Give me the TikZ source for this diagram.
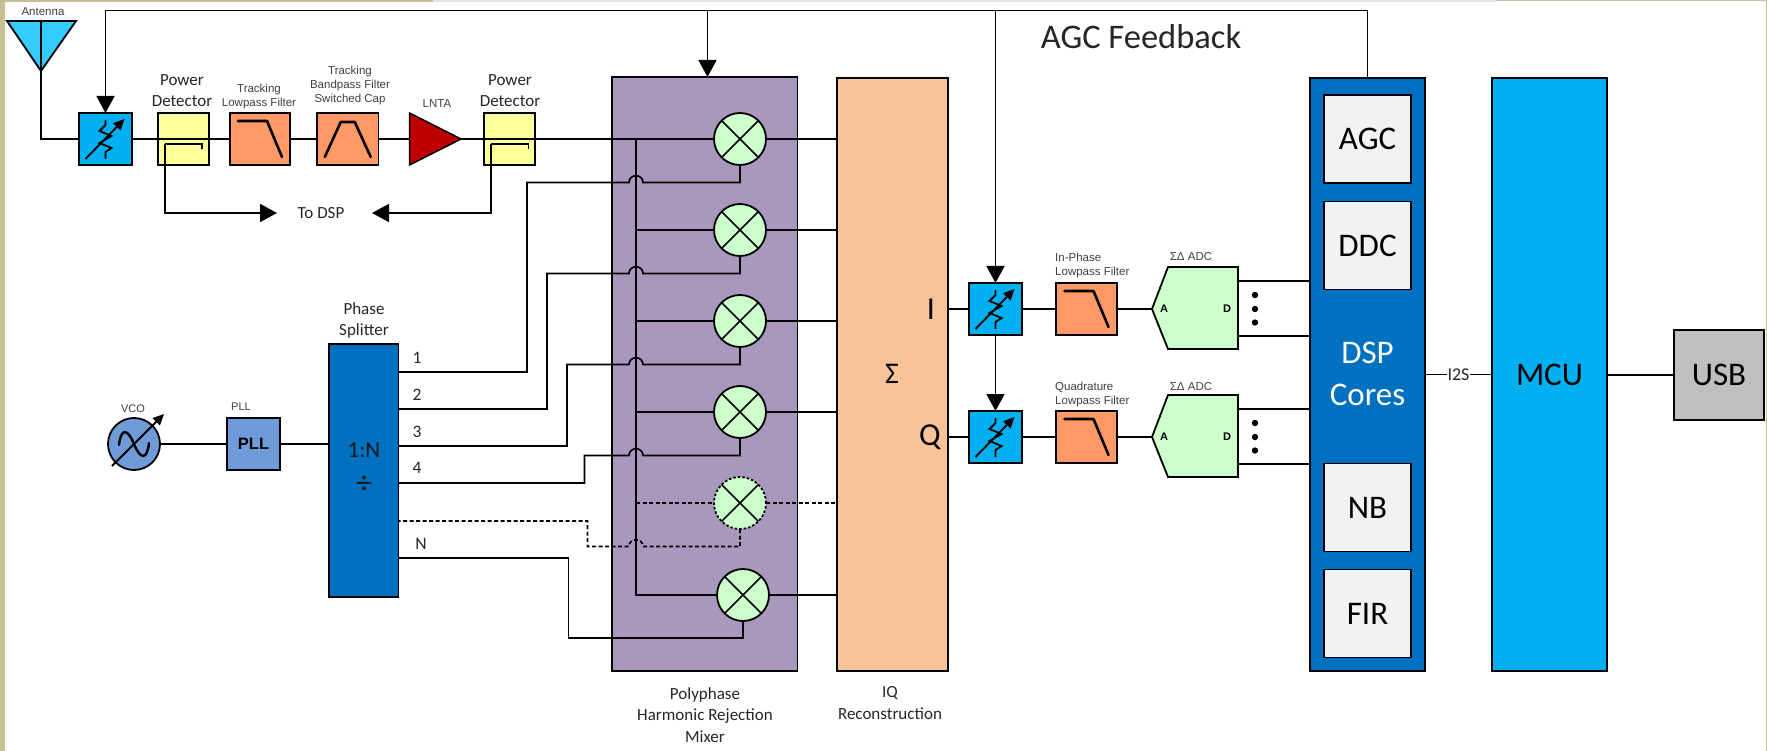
\documentclass[tikz,border=0pt]{standalone}
\usepackage{fontspec}
\setmainfont{Carlito}
\newfontfamily\arialf{Liberation Sans}
\usetikzlibrary{arrows.meta,calc}
\newcommand\fsz[1]{\fontsize{#1}{#1}\selectfont}
\definecolor{beige}{HTML}{C6BE95}
\definecolor{lgray}{HTML}{E5E2DF}
\definecolor{anticol}{HTML}{33CCFF}
\definecolor{attcol}{HTML}{00B0F0}
\definecolor{pdcol}{HTML}{FFFF99}
\definecolor{filtcol}{HTML}{FF9966}
\definecolor{lntacol}{HTML}{C00000}
\definecolor{mixcol}{HTML}{A998BE}
\definecolor{sigcol}{HTML}{F8C399}
\definecolor{grncol}{HTML}{CCFFCC}
\definecolor{pllcol}{HTML}{6F9BD8}
\definecolor{dspcol}{HTML}{0070C0}
\definecolor{subcol}{HTML}{F2F2F2}
\definecolor{usbcol}{HTML}{BFBFBF}
\definecolor{smalltxt}{HTML}{404040}
\tikzset{
  wire/.style={line width=1.7pt,line join=miter},
  dashwire/.style={wire,dash pattern=on 4pt off 2.5pt},
  bigtip/.style={wire,-{Triangle[length=17pt,width=18pt]}},
  box/.style={draw=black,line width=1.8pt,inner sep=0pt,outer sep=0pt,rectangle,align=center},
  small/.style={font=\arialf\fontsize{11.5}{14}\selectfont,text=smalltxt,align=center,inner sep=0pt},
  med/.style={font=\fontsize{17}{21}\selectfont,text=black!85,align=center,inner sep=0pt},
  big/.style={font=\fontsize{33}{42}\selectfont,text=black,align=center},
  mixer/.style={circle,draw=black,line width=1.8pt,fill=grncol,minimum size=52pt,inner sep=0pt,outer sep=0pt},
  symline/.style={line width=2.6pt,line cap=round,line join=round},
  pics/attsym/.style={code={
    \draw[line width=1.8pt,line join=miter] (0,-19)--(0,-14)--(-6,-8)--(6,-3)--(-6,4)--(6,9)--(0,13)--(0,20);
    \draw[line width=1.8pt,-{Triangle[length=11pt,width=10pt]}] (-20,20)--(19,-20);
  }},
  pics/lpsym/.style={code={\draw[symline] (-22,-18)--(7,-18)--(22,18);}},
  pics/adcsym/.style={code={
    \draw[line width=1.8pt,fill=grncol,line join=miter] (0,0)--(16,-42)--(86,-42)--(86,40)--(16,40)--cycle;
    \coordinate (-tip) at (0,0);
    \coordinate (-outa) at (86,-28);
    \coordinate (-outb) at (86,27);
    \fill (103,-14) circle (3.2) (103,0) circle (3.2) (103,13.5) circle (3.2);
  }},
}
\begin{document}
\begin{tikzpicture}[x=1pt,y=-1pt]
\useasboundingbox (0,0) rectangle (1767,751);
\fill[white] (0,0) rectangle (1767,751);
\fill[beige] (0,0) rectangle (5,751);
\fill[beige] (0,0) rectangle (433,2);
\fill[lgray] (433,0) rectangle (1497,2);
\fill[beige] (1497,0) rectangle (1767,1.5);
\fill[beige] (1765.8,0) rectangle (1767,751);

% blocks
\node[box,fill=attcol,minimum width=53pt,minimum height=52pt] (att1) at (105.5,139) {};
\node[box,fill=pdcol,minimum width=51pt,minimum height=52pt] (pd1) at (183.5,139) {};
\node[box,fill=filtcol,minimum width=60pt,minimum height=52pt] (lp) at (260,139) {};
\node[box,fill=filtcol,minimum width=61.5pt,minimum height=52pt] (bp) at (347.75,139) {};
\node[box,fill=pdcol,minimum width=51pt,minimum height=52pt] (pd2) at (509.5,139) {};
\node[box,fill=mixcol,minimum width=185.5pt,minimum height=594pt] (mixbox) at (704.75,374) {};
\node[box,fill=sigcol,minimum width=111pt,minimum height=593pt] (sigma) at (892.5,374.5) {};
\node[box,fill=attcol,minimum width=53pt,minimum height=52pt] (att2) at (995.5,309) {};
\node[box,fill=attcol,minimum width=53pt,minimum height=52pt] (att3) at (995.5,437) {};
\node[box,fill=filtcol,minimum width=61pt,minimum height=52pt] (filt1) at (1086.5,309) {};
\node[box,fill=filtcol,minimum width=61pt,minimum height=52pt] (filt2) at (1086.5,437) {};
\node[box,fill=dspcol,minimum width=115pt,minimum height=593pt] (dsp) at (1367.5,374.5) {};
\node[box,fill=subcol,minimum width=87pt,minimum height=88pt,font=\fsz{33}] (agc) at (1367.5,139) {AGC};
\node[box,fill=subcol,minimum width=87pt,minimum height=88pt,font=\fsz{33}] (ddc) at (1367.5,245.5) {DDC};
\node[box,fill=subcol,minimum width=87pt,minimum height=88pt,font=\fsz{33}] (nb) at (1367.5,507.5) {NB};
\node[box,fill=subcol,minimum width=87pt,minimum height=88pt,font=\fsz{33}] (fir) at (1367.5,613.5) {FIR};
\node[big,text=white,inner sep=0pt] (dsptxt) at (1367.5,374) {DSP\\Cores};
\node[box,fill=attcol,minimum width=115pt,minimum height=593pt,font=\fsz{33}] (mcu) at (1549.5,374.5) {MCU};
\node[box,fill=usbcol,minimum width=90pt,minimum height=90pt,font=\fsz{33}] (usb) at (1719,375) {USB};
\node[box,fill=pllcol,minimum width=53pt,minimum height=52pt,font=\arialf\bfseries\fsz{16.5}] (pll) at (253.5,444) {PLL};
\node[circle,draw=black,line width=1.8pt,fill=pllcol,minimum size=52pt,inner sep=0pt,outer sep=0pt] (vco) at (134,444) {};
\node[box,fill=dspcol,minimum width=69.5pt,minimum height=253pt] (split) at (363.75,470.5) {};

% antenna and LNTA
\coordinate (anttop) at (41,21);
\coordinate (anttip) at (41,71);
\draw[line width=1.8pt,fill=anticol,line join=miter] (7,21)--(76,21)--(anttip)--cycle;
\coordinate (lntain) at (409.5,139);
\coordinate (lntaout) at (461,139);
\draw[line width=1.5pt,fill=lntacol,line join=miter] (409.5,113)--(lntaout)--(409.5,165)--cycle;

% mixers
\foreach \n/\yy in {1/139,2/230,3/321,4/412} \node[mixer] (mix\n) at (740,\yy) {};
\node[mixer,dash pattern=on 2.5pt off 2pt] (mix5) at (740,503) {};
\node[mixer] (mix6) at (743,595) {};

% RF chain connectors
\draw[wire] (anttop)--(anttip) |- (att1.west);
\draw[wire] (att1.east)--(lp.west);
\draw[wire] (lp.east)--(bp.west);
\draw[wire] (bp.east)--(lntain);
\draw[wire] (lntaout)--(mix1.west);

% AGC feedback
\coordinate (fb) at (105.5,10.5);
\coordinate (fbmix) at (707.5,10.5);
\coordinate (mixin) at (707.5,77);
\draw[bigtip] (dsp.north) |- (fb) -- (att1.north);
\draw[bigtip] (fbmix)--(mixin);
\draw[bigtip] (fb -| att2.north)--(att2.north);
\draw[bigtip] (att2.south)--(att3.north);

% power detector tap lines
\coordinate (pd1a) at (165,144);
\coordinate (pd1b) at (202,144);
\coordinate (pd1c) at (202,149);
\coordinate (pd2a) at (491,144);
\coordinate (pd2b) at (528.5,144);
\coordinate (pd2c) at (528.5,149);
\coordinate (dspl) at (277,213);
\coordinate (dspr) at (372,213);
\draw[wire] (pd1c)--(pd1b)--(pd1a);
\draw[bigtip] (pd1a) |- (dspl);
\draw[wire] (pd2c)--(pd2b)--(pd2a);
\draw[bigtip] (pd2a) |- (dspr);

% bus and mixer ports
\coordinate (bus) at (636,139);
\coordinate (jl) at (629,139);
\coordinate (jr) at (643,139);
\draw[line width=1.8pt] (bus) -- (bus |- mix6.west) -- (mix6.west);
\draw[wire] (bus |- mix2.west)--(mix2.west);
\draw[wire] (bus |- mix3.west)--(mix3.west);
\draw[wire] (bus |- mix4.west)--(mix4.west);
\draw[dashwire] (bus |- mix5.west)--(mix5.west);
\foreach \n in {1,2,3,4,6} \draw[wire] (mix\n.east)--(sigma.west |- mix\n.east);
\draw[dashwire] (mix5.east)--(sigma.west |- mix5.east);

% LO lines
\foreach \n/\sy/\cx in {1/372/527,2/409/547,3/446/567,4/483/584.5}{
  \coordinate (s\n) at (398.5,\sy);
  \coordinate (j\n) at ($(mix\n.south)+(0,17.5)$);
  \coordinate (c\n) at (\cx,\sy);
  \draw[wire] (mix\n.south)--(j\n)--(j\n -| jr) .. controls ($(j\n -| jr)+(0,-9)$) and ($(j\n -| jl)+(0,-9)$) .. (j\n -| jl)--(j\n -| c\n)--(c\n)--(s\n);
}
\coordinate (s5) at (398.5,521);
\coordinate (c5) at (587.5,521);
\coordinate (j5) at ($(mix5.south)+(0,17.5)$);
\draw[dashwire] (mix5.south)--(j5)--(j5 -| jr) .. controls ($(j5 -| jr)+(0,-9)$) and ($(j5 -| jl)+(0,-9)$) .. (j5 -| jl)--(j5 -| c5)--(c5)--(s5);
\coordinate (s6) at (398.5,558);
\coordinate (c6) at (568.5,558);
\coordinate (j6) at ($(mix6.south)+(0,17)$);
\draw[wire] (mix6.south)--(j6)--(j6 -| c6)--(c6)--(s6);

% crosses on mixers (redrawn on top of wires)
\foreach \n in {1,...,6}{
  \draw[line width=1.6pt] (mix\n.45)--(mix\n.225) (mix\n.135)--(mix\n.315);
}

% baseband chain
\draw[wire] (sigma.east |- att2.west)--(att2.west);
\draw[wire] (sigma.east |- att3.west)--(att3.west);
\draw[wire] (att2.east)--(filt1.west);
\draw[wire] (att3.east)--(filt2.west);
\pic (adca) at (1152,309) {adcsym};
\pic (adcb) at (1152,437) {adcsym};
\draw[wire] (filt1.east)--(adca-tip);
\draw[wire] (filt2.east)--(adcb-tip);
\foreach \a in {adca,adcb}{
  \draw[wire] (\a-outa)--(\a-outa -| dsp.west);
  \draw[wire] (\a-outb)--(\a-outb -| dsp.west);
}
\node[font=\arialf\bfseries\fsz{11},inner sep=0pt] (adcaA) at (1164,309) {A};
\node[font=\arialf\bfseries\fsz{11},inner sep=0pt] (adcaD) at (1227,309) {D};
\node[font=\arialf\bfseries\fsz{11},inner sep=0pt] (adcbA) at (1164,437) {A};
\node[font=\arialf\bfseries\fsz{11},inner sep=0pt] (adcbD) at (1227,437) {D};

% digital side
\draw[wire] (dsp.east)--(mcu.west |- dsp.east) node[midway,fill=white,inner sep=1pt,font=\fsz{18},text=black!85] (i2s) {I2S};
\draw[wire] (mcu.east |- usb.west)--(usb.west);
\draw[wire] (vco.east)--(pll.west);
\draw[wire] (pll.east)--(split.west |- pll.east);

% symbols
\pic at (att1.center) {attsym};
\pic at (att2.center) {attsym};
\pic at (att3.center) {attsym};
\pic at (lp.center) {lpsym};
\pic at (filt1.center) {lpsym};
\pic at (filt2.center) {lpsym};
\draw[symline] ($(bp.center)+(-23,18)$)--($(bp.center)+(-7,-17)$)--($(bp.center)+(7,-17)$)--($(bp.center)+(23,18)$);
\draw[line width=2.4pt,line cap=round] ($(vco.center)+(-15,1)$) .. controls ($(vco.center)+(-13,-17)$) and ($(vco.center)+(-6,-15)$) .. (vco.center) .. controls ($(vco.center)+(6,15)$) and ($(vco.center)+(13,17)$) .. ($(vco.center)+(15,-1)$);
\draw[line width=1.8pt,-{Triangle[length=11pt,width=10pt]}] ($(vco.center)+(-22,22)$)--($(vco.center)+(30,-30)$);

% labels
\node[small] (tant) at (43,12) {Antenna};
\node[med] (tpd1) at (182,90.5) {Power\\Detector};
\node[small] (tlp) at (259,97) {Tracking\\Lowpass Filter};
\node[small] (tbp) at (350,86) {Tracking\\Bandpass Filter\\Switched Cap};
\node[small] (tlnta) at (437,104) {LNTA};
\node[med] (tpd2) at (510,91) {Power\\Detector};
\node[med] (ttodsp) at (321,213) {To DSP};
\node[med,font=\fsz{34.5}] (tagc) at (1141,37) {AGC Feedback};
\node[med] (tphase) at (364,320) {Phase\\Splitter};
\node[small,font=\arialf\fsz{11}] (tvco) at (133,409) {VCO};
\node[small,font=\arialf\fsz{11}] (tpll) at (241,407) {PLL};
\node[font=\fsz{23},text=black!90,inner sep=0pt] (t1n) at (364,450) {1:N};
\node[font=\fsz{32},text=black!90,inner sep=0pt] (tdiv) at (364,485) {÷};
\node[med,font=\fsz{17.5}] (l1) at (417,358) {1};
\node[med,font=\fsz{17.5}] (l2) at (417,395) {2};
\node[med,font=\fsz{17.5}] (l3) at (417,432) {3};
\node[med,font=\fsz{17.5}] (l4) at (417,468) {4};
\node[med,font=\fsz{17.5}] (lN) at (421,544) {N};
\node[med,font=\fsz{17}] (tpoly) at (705,715) {Polyphase\\[4.5pt]Harmonic Rejection\\[4.5pt]Mixer};
\node[med,font=\fsz{17}] (tiq) at (890,703) {IQ\\[4.5pt]Reconstruction};
\node[font=\fsz{30},inner sep=0pt] (tsig) at (892,374) {Σ};
\node[font=\fsz{32},inner sep=0pt] (tI) at (931,309) {I};
\node[font=\fsz{32},inner sep=0pt] (tQ) at (930,437) {Q};
\node[small,align=left,anchor=west] (tip) at (1055,266) {In-Phase\\Lowpass Filter};
\node[small,align=left,anchor=west] (tqd) at (1055,395) {Quadrature\\Lowpass Filter};
\node[small] (tadca) at (1191,257) {ΣΔ ADC};
\node[small] (tadcb) at (1191,387) {ΣΔ ADC};
\end{tikzpicture}
\end{document}
